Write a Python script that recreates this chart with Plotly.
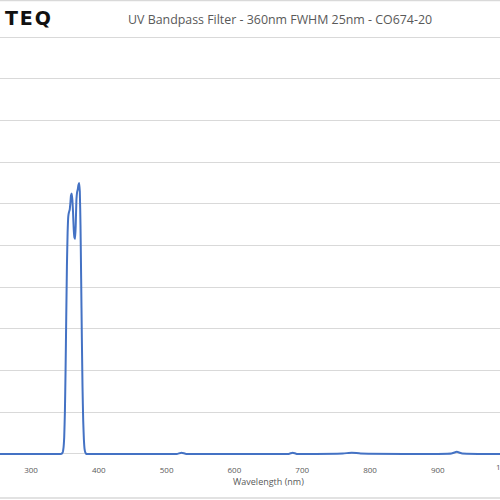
import plotly.graph_objects as go

# ---- data ----
wavelength_nm = [200, 250, 300, 330, 340, 345, 346, 347, 348, 349, 350, 351, 352, 353, 354,
                 355, 356, 357, 358, 359, 360, 361, 362, 363, 364, 365, 366, 367, 368, 369,
                 370, 371, 372, 373, 374, 375, 376, 377, 378, 379, 380, 381, 382, 390, 400,
                 450, 500, 515, 522, 529, 600, 650, 680, 686, 692, 720, 760, 773, 786, 850,
                 900, 920, 928, 936, 960, 1000, 1100]
transmission_pct = [0, 0, 0, 0, 0, 0, 0.2, 0.5, 1.5, 4, 10, 20, 33, 45, 53,
                    57, 58, 58.5, 60, 62, 62.5, 61, 58, 54, 52, 51.6, 55, 61, 62.8, 63.5,
                    64.5, 65, 63, 55, 42, 28, 16, 8, 3.5, 1.2, 0.4, 0.1, 0, 0, 0,
                    0, 0, 0, 0.3, 0, 0, 0, 0, 0.3, 0, 0, 0.1, 0.3, 0.1, 0,
                    0, 0.1, 0.5, 0.1, 0, 0, 0]
x_ticks = [300, 400, 500, 600, 700, 800, 900]
y_grid = [0, 10, 20, 30, 40, 50, 60, 70, 80, 90, 100]

title_text = "UV Bandpass Filter - 360nm FWHM 25nm - CO674-20"
x_title = "Wavelength (nm)"
logo_text = "T\u200aE\u200aQ"

# ---- layout geometry (pixels) ----
W, H = 500, 500
m_t, m_b, m_l, m_r = 35, 44, 0, 0
x_range = [254.3, 991.7]
y_range = [-0.5, 100.5]
plot_h = H - m_t - m_b

def px_to_paper_x(px):
    return (px - m_l) / (W - m_l - m_r)

def px_to_paper_y(py):
    return (H - m_b - py) / plot_h

def nm_to_paper_x(w):
    return (w - x_range[0]) / (x_range[1] - x_range[0])

grey_txt = "#595959"
font_main = "Open Sans"

fig = go.Figure()
fig.add_trace(go.Scatter(
    x=wavelength_nm, y=transmission_pct, mode="lines",
    line=dict(color="#4472C4", width=2, shape="spline", smoothing=0.4),
    hoverinfo="skip", showlegend=False,
))

fig.update_layout(
    width=W, height=H,
    margin=dict(l=m_l, r=m_r, t=m_t, b=m_b, pad=0),
    paper_bgcolor="white", plot_bgcolor="white",
    xaxis=dict(
        range=x_range, tickvals=x_ticks, showgrid=False, zeroline=False,
        showline=False, ticks="", ticklabelstandoff=8,
        tickfont=dict(family=font_main, size=8, color=grey_txt),
    ),
    yaxis=dict(
        range=y_range, tickvals=y_grid, showgrid=True, gridcolor="#d9d9d9",
        gridwidth=1, zeroline=False, showline=False, showticklabels=False, ticks="",
    ),
    annotations=[
        dict(text=title_text, xref="paper", yref="paper",
             x=px_to_paper_x(280), y=px_to_paper_y(19), xanchor="center", yanchor="middle",
             showarrow=False, font=dict(family=font_main, size=12.4, color=grey_txt)),
        dict(text=x_title, xref="paper", yref="paper",
             x=px_to_paper_x(268), y=px_to_paper_y(481.5), xanchor="center", yanchor="middle",
             showarrow=False, font=dict(family=font_main, size=9, color=grey_txt)),
        dict(text="1000", xref="paper", yref="paper",
             x=nm_to_paper_x(1000), y=px_to_paper_y(466.5), xanchor="center", yanchor="middle",
             showarrow=False, font=dict(family=font_main, size=8, color=grey_txt)),
        dict(text="<b>" + logo_text + "</b>", xref="paper", yref="paper",
             x=px_to_paper_x(53), y=px_to_paper_y(18.5), xanchor="right", yanchor="middle",
             showarrow=False, font=dict(family="DejaVu Sans", size=19, color="#111111")),
    ],
    shapes=[
        dict(type="line", xref="paper", yref="paper", x0=-0.1, x1=1.1,
             y0=px_to_paper_y(0.5), y1=px_to_paper_y(0.5),
             line=dict(color="#d9d9d9", width=1.5)),
        dict(type="line", xref="paper", yref="paper", x0=-0.1, x1=1.1,
             y0=px_to_paper_y(498), y1=px_to_paper_y(498),
             line=dict(color="#d9d9d9", width=1.5)),
    ],
)

fig.write_html("out.html", config={"displayModeBar": False},
               post_script="document.body.style.margin='0';document.body.style.overflow='hidden';")
